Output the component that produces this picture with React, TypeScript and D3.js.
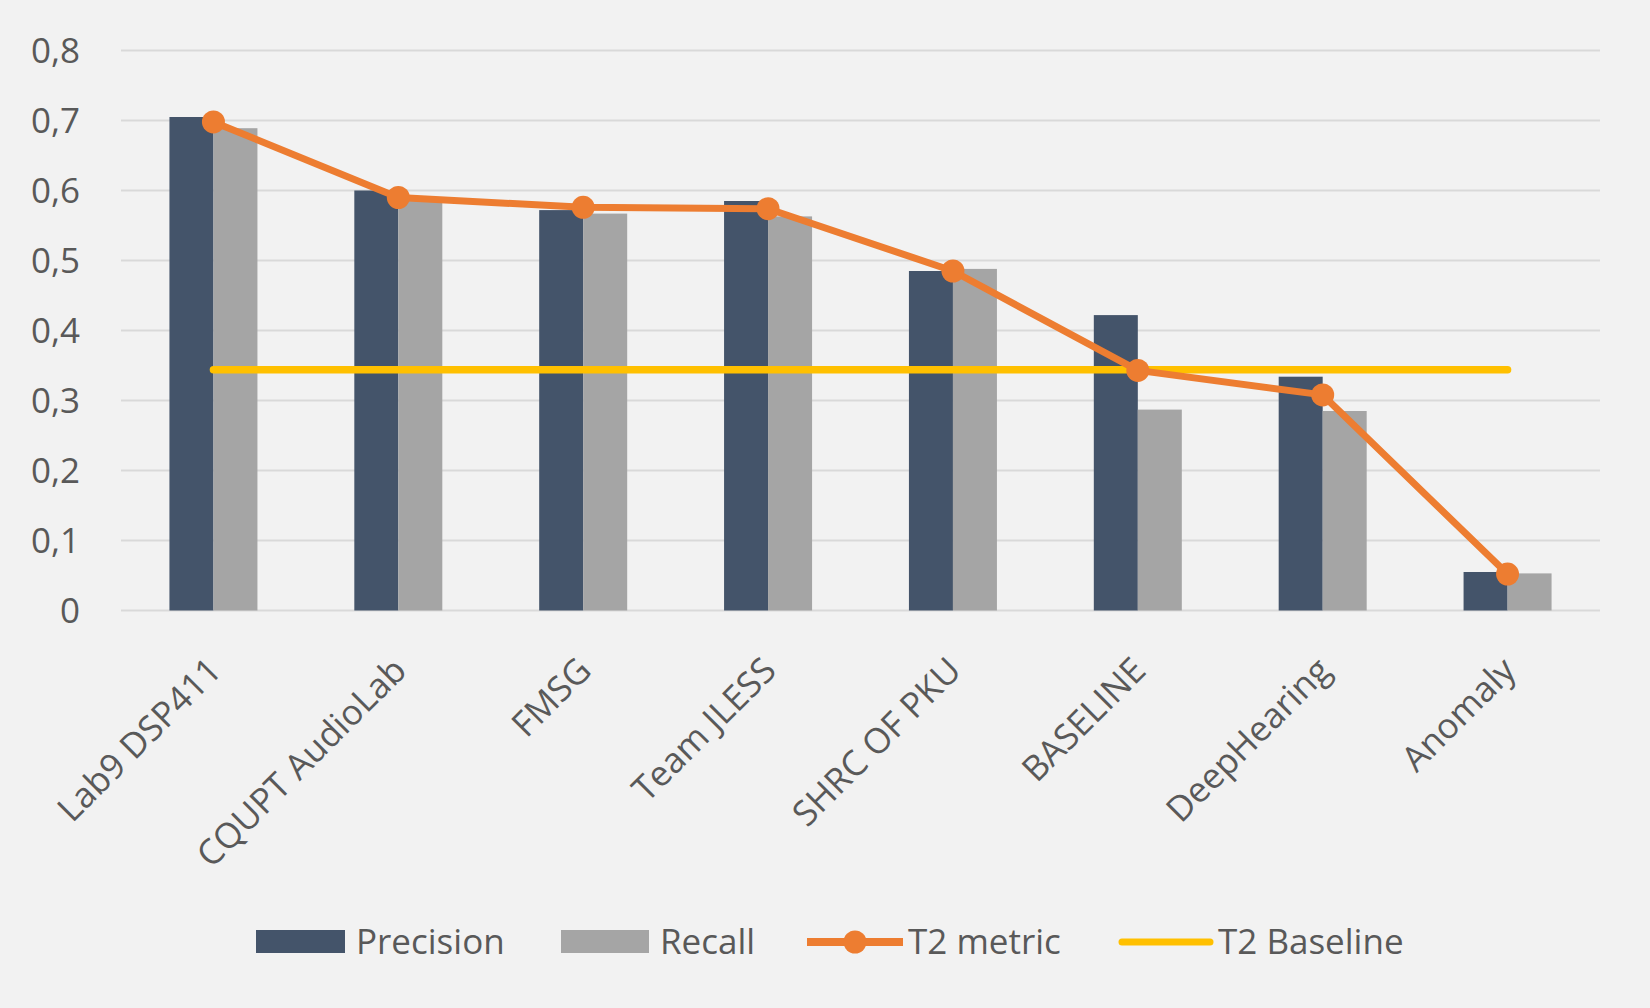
import React from "react";
import * as d3 from "d3";

const categories = ["Lab9 DSP411", "CQUPT AudioLab", "FMSG", "Team JLESS", "SHRC OF PKU", "BASELINE", "DeepHearing", "Anomaly"];
const precision = [0.705, 0.6, 0.572, 0.585, 0.485, 0.422, 0.334, 0.055];
const recall = [0.689, 0.588, 0.567, 0.563, 0.488, 0.287, 0.285, 0.053];
const t2metric = [0.698, 0.59, 0.576, 0.574, 0.485, 0.343, 0.308, 0.052];
const t2baseline = [0.344, 0.344, 0.344, 0.344, 0.344, 0.344, 0.344, 0.344];
const yTicks = [0, 0.1, 0.2, 0.3, 0.4, 0.5, 0.6, 0.7, 0.8];

const W = 1650;
const H = 1008;
const FONT = "'Open Sans', 'Noto Sans', sans-serif";
const TEXT = "#595959";
const C_PREC = "#44546a";
const C_REC = "#a5a5a5";
const C_T2 = "#ed7d31";
const C_BASE = "#ffc000";

export default function App() {
  const x = d3.scaleBand<string>().domain(categories).range([121, 1600]).padding(0);
  const y = d3.scaleLinear().domain([0, 0.8]).range([610.5, 50.5]);
  const bw = x.bandwidth() * 0.238;
  const cx = (c: string) => (x(c) as number) + x.bandwidth() / 2;

  const line = d3
    .line<number>()
    .x((_, i) => cx(categories[i]))
    .y((d) => y(d));

  const fmt = (v: number) => (v === 0 ? "0" : d3.format(".1f")(v).replace(".", ","));

  return (
    <div style={{ position: "absolute", left: 0, top: 0 }}>
      <svg width={W} height={H} style={{ display: "block", background: "#f2f2f2" }}>
        <rect x={0} y={0} width={W} height={H} fill="#f2f2f2" />
        {yTicks.map((t) => (
          <g key={t}>
            <line x1={121} x2={1600} y1={y(t)} y2={y(t)} stroke="#d9d9d9" strokeWidth={2} />
            <text x={80} y={y(t)} dy="0.35em" textAnchor="end" fontFamily={FONT} fontSize={35} fill={TEXT}>
              {fmt(t)}
            </text>
          </g>
        ))}
        {categories.map((c, i) => (
          <g key={c}>
            <rect x={cx(c) - bw} y={y(precision[i])} width={bw} height={y(0) - y(precision[i])} fill={C_PREC} />
            <rect x={cx(c)} y={y(recall[i])} width={bw} height={y(0) - y(recall[i])} fill={C_REC} />
          </g>
        ))}
        <path d={line(t2baseline) || ""} fill="none" stroke={C_BASE} strokeWidth={7.5} strokeLinecap="round" />
        <path d={line(t2metric) || ""} fill="none" stroke={C_T2} strokeWidth={7} strokeLinejoin="round" />
        {t2metric.map((v, i) => (
          <circle key={i} cx={cx(categories[i])} cy={y(v)} r={11.5} fill={C_T2} />
        ))}
        {categories.map((c) => (
          <text
            key={c}
            transform={`translate(${cx(c) + 10},${y(0) + 62}) rotate(-45)`}
            textAnchor="end"
            fontFamily={FONT}
            fontSize={35}
            fill={TEXT}
          >
            {c}
          </text>
        ))}
        <g fontFamily={FONT} fontSize={35} fill={TEXT}>
          <rect x={256} y={930} width={89} height={23} fill={C_PREC} />
          <text x={356} y={942} dy="0.35em">Precision</text>
          <rect x={561} y={930} width={88} height={23} fill={C_REC} />
          <text x={660} y={942} dy="0.35em">Recall</text>
          <line x1={807} x2={903} y1={942} y2={942} stroke={C_T2} strokeWidth={8} />
          <circle cx={855} cy={942} r={11.5} fill={C_T2} />
          <text x={908} y={942} dy="0.35em">T2 metric</text>
          <line x1={1122} x2={1210} y1={942} y2={942} stroke={C_BASE} strokeWidth={7} strokeLinecap="round" />
          <text x={1218} y={942} dy="0.35em">T2 Baseline</text>
        </g>
      </svg>
    </div>
  );
}
